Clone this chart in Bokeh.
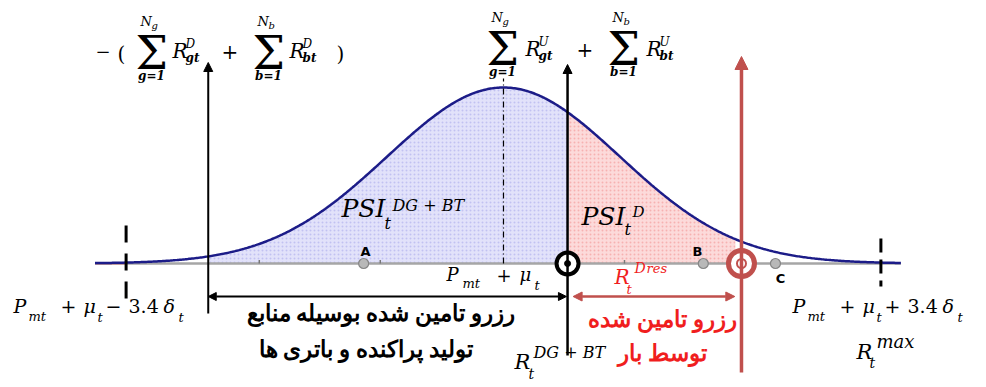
import numpy as np
from bokeh.plotting import figure
from bokeh.models import Range1d, ColumnDataSource, Arrow, NormalHead
from bokeh.embed import file_html
from bokeh.resources import INLINE

# ---------------- data (x in units of delta_t around P_mt + mu_t, y = relative density) -------------
mu = 0.0
delta = 1.0
band_k = 3.4                    # P_mt + mu_t -/+ 3.4 delta_t
curve_spread = 1.05             # drawn width of the bell curve (relative to delta)
curve_extent = [-3.68, 3.58]
x_down_reserve = -2.66          # -(sum R^D_gt + sum R^D_bt)
x_dgbt = 0.577                  # R_t^{DG+BT} = sum R^U_gt + sum R^U_bt
x_dres = 2.144                  # end of R_t^{Dres}
x_dres_fill_end = 2.10
point_names = ["A", "B", "C"]
point_x = [-1.26, 1.80, 2.45]
grid_ticks = [-2.20, -1.11, 1.09]

# ---------------- layout helpers (pixels of the picture -> plot coordinates) ----------------
MEAN_PX, SIG_PX, BASE_PX, PEAK_PX = 503.0, 111.0, 263.0, 176.0
W, H = 986, 387


def sx(px):
    return (px - MEAN_PX) / SIG_PX


def sy(py):
    return (BASE_PX - py) / PEAK_PX


p = figure(width=W, height=H, output_backend="svg", toolbar_location=None,
           x_range=Range1d(sx(0), sx(W)), y_range=Range1d(sy(H), sy(0)),
           min_border=0, background_fill_color="white", border_fill_color="white")
p.axis.visible = False
p.grid.visible = False
p.outline_line_color = None

# ---------------- curve and fills ----------------
xs = np.linspace(curve_extent[0], curve_extent[1], 600)
ys = np.exp(-0.5 * ((xs - mu) / (delta * curve_spread)) ** 2)

mb = (xs >= x_down_reserve) & (xs <= x_dgbt)
p.varea(x=xs[mb], y1=0, y2=ys[mb], fill_color="#e2e2fa",
        hatch_pattern="dot", hatch_color="#b4b4ee", hatch_scale=4, hatch_alpha=0.7)
mr = (xs >= x_dgbt) & (xs <= x_dres_fill_end)
p.varea(x=xs[mr], y1=0, y2=ys[mr], fill_color="#fcdada",
        hatch_pattern="dot", hatch_color="#f4a0a0", hatch_scale=4, hatch_alpha=0.7)

# baseline
p.line(x=[curve_extent[0], curve_extent[1]], y=[0, 0], line_color="#a6a6a6", line_width=2.5)
p.line(x=[curve_extent[0], mu - band_k * delta], y=[0, 0], line_color="#d04040", line_width=1.5)
p.segment(x0=grid_ticks, y0=[0.0] * 3, x1=grid_ticks, y1=[0.02] * 3, line_color="#777777", line_width=1.5)

p.line(x=xs, y=ys, line_color="#1c1c88", line_width=2.5)

# dash-dot at mean
p.segment(x0=[mu], y0=[0], x1=[mu], y1=[sy(78)], line_color="black", line_width=1.2, line_dash="6 3 1 3")

# dashed 3.4 delta limits
p.segment(x0=[mu - band_k * delta], y0=[sy(225)], x1=[mu - band_k * delta], y1=[sy(298)],
          line_color="black", line_width=3, line_dash="17 11")
p.segment(x0=[mu + band_k * delta], y0=[sy(238)], x1=[mu + band_k * delta], y1=[sy(286)],
          line_color="black", line_width=3, line_dash="14 7")

# vertical arrows
p.add_layout(Arrow(x_start=x_down_reserve, y_start=sy(313), x_end=x_down_reserve, y_end=sy(62),
                   line_width=2, line_color="black",
                   end=NormalHead(size=9, fill_color="black", line_color="black")))
p.add_layout(Arrow(x_start=x_dgbt, y_start=sy(355), x_end=x_dgbt, y_end=sy(64),
                   line_width=2.5, line_color="black",
                   end=NormalHead(size=9, fill_color="black", line_color="black")))
p.add_layout(Arrow(x_start=x_dres, y_start=sy(372), x_end=x_dres, y_end=sy(56),
                   line_width=3.5, line_color="#c0504d",
                   end=NormalHead(size=13, fill_color="#c0504d", line_color="#c0504d")))

# horizontal double arrows
p.add_layout(Arrow(x_start=x_down_reserve, y_start=sy(296), x_end=x_dgbt - 0.01, y_end=sy(296),
                   line_width=2, line_color="black",
                   start=NormalHead(size=8, fill_color="black", line_color="black"),
                   end=NormalHead(size=8, fill_color="black", line_color="black")))
p.add_layout(Arrow(x_start=x_dgbt + 0.05, y_start=sy(296), x_end=x_dres - 0.06, y_end=sy(296),
                   line_width=2.5, line_color="#c0504d",
                   start=NormalHead(size=9, fill_color="#c0504d", line_color="#c0504d"),
                   end=NormalHead(size=9, fill_color="#c0504d", line_color="#c0504d")))

# points A, B, C
p.scatter(x=point_x, y=[0, 0, 0], size=10, fill_color="#b8b8b8", line_color="#858585", line_width=1.2)

# target markers
p.scatter(x=[x_dgbt], y=[0], size=22, fill_color="white", line_color="black", line_width=4)
p.scatter(x=[x_dgbt], y=[0], size=6, fill_color="black", line_color="black")
p.scatter(x=[x_dres], y=[0], size=26, fill_color="white", line_color="#c0504d", line_width=5)
p.scatter(x=[x_dres], y=[0], size=9, fill_color="white", line_color="#c0504d", line_width=2)

# ---------------- texts ----------------
SERIF = "DejaVu Serif"
rows = []  # text, X, Ycenter, size, style, color, align, font


def t(s, X, Y, size, style="italic", color="black", align="left", font=SERIF):
    # Y is the baseline in picture pixels; convert to the em-box middle
    rows.append((s, X, Y - 0.32 * size, size, style, color, align, font))


def formula_sum(sig_x, n_letter, idx, R_x, sup, sub, base_sig, base_R):
    t("\u03a3", sig_x, base_sig, 46, "normal")
    t("N", sig_x + 5, base_sig - 42, 13)
    t(n_letter, sig_x + 16, base_sig - 39, 10)
    t(idx, sig_x + 16, base_sig + 12, 12, "bold italic", align="center")
    t("R", R_x, base_R, 20)
    t(sup, R_x + 13, base_R - 10, 12)
    t(sub, R_x + 13, base_R + 4, 12, "bold italic")


# -( sum R^D_gt + sum R^D_bt )
t("\u2212", 95, 56, 18, "normal")
t("(", 117, 60, 20, "normal")
formula_sum(135, "g", "g=1", 172, "D", "gt", 67, 57)
t("+", 221, 57, 20, "normal")
formula_sum(252, "b", "b=1", 289, "D", "bt", 67, 57)
t(")", 336, 60, 20, "normal")

# sum R^U_gt + sum R^U_bt
formula_sum(486, "g", "g=1", 525, "U", "gt", 63, 55)
t("+", 576, 55, 20, "normal")
formula_sum(607, "b", "b=1", 646, "U", "bt", 63, 55)

# PSI labels
t("PSI", 341, 216, 25)
t("t", 384, 228, 16)
t("DG + BT", 392, 210, 16)

t("PSI", 581, 224, 25)
t("t", 624, 234, 16)
t("D", 632, 216, 15)

# P_mt + mu_t
t("P", 446, 280, 18)
t("mt", 462, 287, 13)
t("+", 496, 280, 18, "normal")
t("\u03bc", 519, 280, 18)
t("t", 534, 289, 13)

# R_t^{Dres}
RED = "#f01e1e"
t("R", 614, 283, 20, color=RED)
t("t", 626, 293, 13, color=RED)
t("D", 634, 272, 14, color=RED)
t("res", 646, 272, 13, color=RED)


def limit_label(x0, sign):
    t("P", x0, 312, 19)
    t("mt", x0 + 15, 320, 13)
    t("+", x0 + 47, 312, 19, "normal")
    t("\u03bc", x0 + 70, 312, 19)
    t("t", x0 + 84, 321, 13)
    t(sign, x0 + 92, 312, 19, "normal")
    t("3.4", x0 + 115, 312, 19, "normal")
    t("\u03b4", x0 + 150, 312, 19)
    t("t", x0 + 165, 321, 13)


limit_label(13, "\u2212")
limit_label(792, "+")

# R_t^max
t("R", 856, 358, 21)
t("t", 869, 367, 14)
t("max", 876, 347, 18)

# R_t^{DG+BT}
t("R", 514, 368, 21)
t("t", 528, 378, 14)
t("DG + BT", 533, 357, 16)

# letters A, B, C
for name, X, Y in zip(point_names, [365, 697, 780], [255, 255, 282]):
    t(name, X, Y, 13, "bold", align="center", font="DejaVu Sans")

for align in ("left", "center"):
    sel = [r for r in rows if r[6] == align]
    src = ColumnDataSource(dict(
        text=[r[0] for r in sel], x=[sx(r[1]) for r in sel], y=[sy(r[2]) for r in sel],
        size=["%dpx" % r[3] for r in sel], style=[r[4] for r in sel],
        color=[r[5] for r in sel], font=[r[7] for r in sel]))
    p.text(x="x", y="y", text="text", source=src, text_font="font", text_font_size="size",
           text_font_style="style", text_color="color", text_align=align,
           text_baseline="middle")

# Persian captions
fa_text = ["رزرو تامین شده بوسیله منابع", "تولید پراکنده و باتری ها", "رزرو تامین شده", "توسط بار"]
fa_X = [380, 365, 662, 662]
fa_Y = [313, 349, 319, 353]
fa_size = ["23px", "23px", "23px", "23px"]
fa_color = ["black", "black", RED, RED]
fa_src = ColumnDataSource(dict(text=fa_text, x=[sx(v) for v in fa_X], y=[sy(v) for v in fa_Y],
                               color=fa_color, size=fa_size))
p.text(x="x", y="y", text="text", source=fa_src, text_font="DejaVu Sans", text_font_size="size",
       text_font_style="bold", text_color="color", text_align="center", text_baseline="middle")

open("out.html", "w").write(file_html(p, INLINE))
